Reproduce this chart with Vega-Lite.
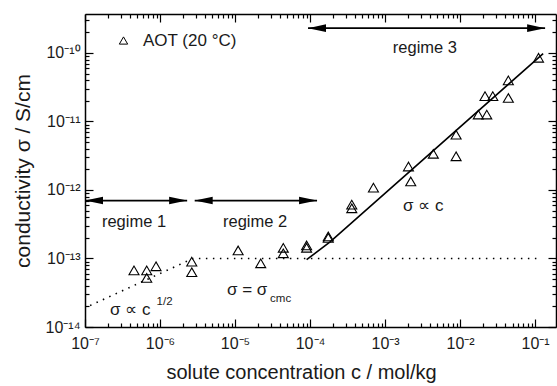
{
  "$schema": "https://vega.github.io/schema/vega-lite/v6.json",
  "width": 471,
  "height": 313,
  "autosize": {"type": "none"},
  "padding": {"left": 85, "top": 14, "right": 1, "bottom": 59},
  "background": "white",
  "config": {
    "font": "Liberation Sans",
    "view": {"stroke": null},
    "axis": {
      "domainColor": "#000",
      "domainWidth": 1.5,
      "tickColor": "#000",
      "tickWidth": 1.2,
      "grid": false,
      "labelFont": "Liberation Sans",
      "titleFont": "Liberation Sans",
      "labelColor": "#1a1a1a",
      "titleColor": "#1a1a1a",
      "titleFontWeight": "normal",
      "labelFlush": false,
      "labelOverlap": false,
      "labelFontSize": 16,
      "titleFontSize": 20
    },
    "text": {"font": "Liberation Sans", "color": "#1a1a1a"}
  },
  "datasets": {
    "aot": [
      {"c": 4.5e-7, "sigma": 6.7e-14},
      {"c": 6.65e-7, "sigma": 6.7e-14},
      {"c": 6.65e-7, "sigma": 5.2e-14},
      {"c": 8.85e-7, "sigma": 7.7e-14},
      {"c": 2.65e-6, "sigma": 9.0e-14},
      {"c": 2.65e-6, "sigma": 6.3e-14},
      {"c": 1.1e-5, "sigma": 1.31e-13},
      {"c": 2.2e-5, "sigma": 8.5e-14},
      {"c": 4.4e-5, "sigma": 1.43e-13},
      {"c": 4.4e-5, "sigma": 1.19e-13},
      {"c": 9.0e-5, "sigma": 1.55e-13},
      {"c": 9.0e-5, "sigma": 1.43e-13},
      {"c": 1.75e-4, "sigma": 2.1e-13},
      {"c": 1.75e-4, "sigma": 2.0e-13},
      {"c": 3.6e-4, "sigma": 6.1e-13},
      {"c": 3.6e-4, "sigma": 5.4e-13},
      {"c": 7.0e-4, "sigma": 1.08e-12},
      {"c": 2.05e-3, "sigma": 2.2e-12},
      {"c": 2.2e-3, "sigma": 1.33e-12},
      {"c": 4.4e-3, "sigma": 3.37e-12},
      {"c": 8.85e-3, "sigma": 6.4e-12},
      {"c": 8.85e-3, "sigma": 3.1e-12},
      {"c": 1.75e-2, "sigma": 1.26e-11},
      {"c": 2.27e-2, "sigma": 1.26e-11},
      {"c": 2.15e-2, "sigma": 2.34e-11},
      {"c": 2.73e-2, "sigma": 2.34e-11},
      {"c": 4.4e-2, "sigma": 2.2e-11},
      {"c": 4.4e-2, "sigma": 3.97e-11},
      {"c": 0.111, "sigma": 8.5e-11}
    ],
    "fitDotted": [
      {"c": 1.17e-7, "sigma": 2.06e-14},
      {"c": 2.75e-6, "sigma": 1e-13},
      {"c": 0.114, "sigma": 1e-13}
    ],
    "fitSolid": [
      {"c": 9e-5, "sigma": 9.6e-14},
      {"c": 1.85e-4, "sigma": 1.75e-13},
      {"c": 0.128, "sigma": 9.8e-11}
    ],
    "arrows": [
      {"c1": 1e-7, "c2": 2.3e-6, "sigma": 7.0e-13},
      {"c1": 2.9e-6, "c2": 1.24e-4, "sigma": 7.0e-13},
      {"c1": 9.4e-5, "c2": 0.136, "sigma": 2.3e-10}
    ],
    "regimes": [
      {"c": 4.5e-7, "sigma": 3.36e-13, "label": "regime 1"},
      {"c": 1.85e-5, "sigma": 3.36e-13, "label": "regime 2"},
      {"c": 3.4e-3, "sigma": 1.18e-10, "label": "regime 3"}
    ],
    "formulas": [
      {"c": 2.15e-7, "sigma": 1.8e-14, "label": "σ ∝ c"},
      {"c": 7.8e-6, "sigma": 3.5e-14, "label": "σ = σ"},
      {"c": 1.74e-3, "sigma": 5.9e-13, "label": "σ ∝ c"}
    ],
    "scripts": [
      {"c": 9.0e-7, "sigma": 2.3e-14, "label": "1/2"},
      {"c": 2.93e-5, "sigma": 2.6e-14, "label": "cmc"}
    ]
  },
  "layer": [
    {
      "data": {"name": "aot"},
      "mark": {"type": "point", "filled": false, "color": "#000", "size": 100, "strokeWidth": 1.1, "opacity": 1},
      "encoding": {
        "x": {
          "field": "c", "type": "quantitative",
          "scale": {"type": "log", "domain": [1e-7, 0.19], "nice": false},
          "axis": {
            "orient": "bottom",
            "title": "solute concentration c / mol/kg",
            "values": [1e-7,2e-7,3e-7,4e-7,5e-7,6e-7,7e-7,8e-7,9e-7,1e-6,2e-6,3e-6,4e-6,5e-6,6e-6,7e-6,8e-6,9e-6,1e-5,2e-5,3e-5,4e-5,5e-5,6e-5,7e-5,8e-5,9e-5,1e-4,2e-4,3e-4,4e-4,5e-4,6e-4,7e-4,8e-4,9e-4,1e-3,2e-3,3e-3,4e-3,5e-3,6e-3,7e-3,8e-3,9e-3,1e-2,2e-2,3e-2,4e-2,5e-2,6e-2,7e-2,8e-2,9e-2,1e-1],
            "labelExpr": "abs(log(datum.value)/LN10 - round(log(datum.value)/LN10)) < 0.001 ? '10⁻' + ['⁰','¹','²','³','⁴','⁵','⁶','⁷','⁸','⁹'][abs(round(log(datum.value)/LN10))] : ''",
            "tickSize": {"condition": {"test": "abs(log(datum.value)/LN10 - round(log(datum.value)/LN10)) < 0.001", "value": -8}, "value": -4},
            "labelPadding": 16,
            "titlePadding": 7,
            "titleX": 216
          }
        },
        "y": {
          "field": "sigma", "type": "quantitative",
          "scale": {"type": "log", "domain": [1e-14, 3.7e-10], "nice": false},
          "axis": {
            "orient": "left",
            "title": "conductivity σ / S/cm",
            "titleFontSize": 21,
            "values": [1e-14,2e-14,3e-14,4e-14,5e-14,6e-14,7e-14,8e-14,9e-14,1e-13,2e-13,3e-13,4e-13,5e-13,6e-13,7e-13,8e-13,9e-13,1e-12,2e-12,3e-12,4e-12,5e-12,6e-12,7e-12,8e-12,9e-12,1e-11,2e-11,3e-11,4e-11,5e-11,6e-11,7e-11,8e-11,9e-11,1e-10,2e-10,3e-10],
            "labelExpr": "abs(log(datum.value)/LN10 - round(log(datum.value)/LN10)) < 0.001 ? '10⁻¹' + ['⁰','¹','²','³','⁴','⁵','⁶','⁷','⁸','⁹'][abs(round(log(datum.value)/LN10)) - 10] : ''",
            "tickSize": {"condition": {"test": "abs(log(datum.value)/LN10 - round(log(datum.value)/LN10)) < 0.001", "value": -8}, "value": -4},
            "labelPadding": 13,
            "titlePadding": 12
          }
        },
        "shape": {
          "datum": "AOT (20 °C)",
          "type": "nominal",
          "scale": {"range": ["triangle-up"]},
          "legend": {
            "orient": "none", "legendX": 30, "legendY": 18, "title": null,
            "labelFontSize": 17, "labelFont": "Liberation Sans", "labelColor": "#1a1a1a",
            "symbolSize": 70, "symbolStrokeColor": "#000", "symbolStrokeWidth": 1, "labelOffset": 11
          }
        }
      }
    },
    {
      "data": {"name": "fitDotted"},
      "mark": {"type": "line", "color": "#000", "strokeWidth": 1.6, "strokeDash": [1.5, 5.5]},
      "encoding": {
        "x": {
          "field": "c", "type": "quantitative",
          "scale": {"type": "log", "domain": [1e-7, 0.19], "nice": false},
          "axis": {
            "orient": "top", "title": null, "labels": false,
            "values": [1e-7,2e-7,3e-7,4e-7,5e-7,6e-7,7e-7,8e-7,9e-7,1e-6,2e-6,3e-6,4e-6,5e-6,6e-6,7e-6,8e-6,9e-6,1e-5,2e-5,3e-5,4e-5,5e-5,6e-5,7e-5,8e-5,9e-5,1e-4,2e-4,3e-4,4e-4,5e-4,6e-4,7e-4,8e-4,9e-4,1e-3,2e-3,3e-3,4e-3,5e-3,6e-3,7e-3,8e-3,9e-3,1e-2,2e-2,3e-2,4e-2,5e-2,6e-2,7e-2,8e-2,9e-2,1e-1],
            "tickSize": {"condition": {"test": "abs(log(datum.value)/LN10 - round(log(datum.value)/LN10)) < 0.001", "value": -8}, "value": -4}
          }
        },
        "y": {
          "field": "sigma", "type": "quantitative",
          "scale": {"type": "log", "domain": [1e-14, 3.7e-10], "nice": false},
          "axis": {
            "orient": "right", "title": null, "labels": false,
            "values": [1e-14,2e-14,3e-14,4e-14,5e-14,6e-14,7e-14,8e-14,9e-14,1e-13,2e-13,3e-13,4e-13,5e-13,6e-13,7e-13,8e-13,9e-13,1e-12,2e-12,3e-12,4e-12,5e-12,6e-12,7e-12,8e-12,9e-12,1e-11,2e-11,3e-11,4e-11,5e-11,6e-11,7e-11,8e-11,9e-11,1e-10,2e-10,3e-10],
            "tickSize": {"condition": {"test": "abs(log(datum.value)/LN10 - round(log(datum.value)/LN10)) < 0.001", "value": -8}, "value": -4}
          }
        }
      }
    },
    {
      "data": {"name": "fitSolid"},
      "mark": {"type": "line", "color": "#000", "strokeWidth": 1.6},
      "encoding": {
        "x": {"field": "c", "type": "quantitative", "scale": {"type": "log", "domain": [1e-7, 0.19], "nice": false}, "axis": null},
        "y": {"field": "sigma", "type": "quantitative", "scale": {"type": "log", "domain": [1e-14, 3.7e-10], "nice": false}, "axis": null}
      }
    },
    {
      "data": {"name": "arrows"},
      "mark": {"type": "rule", "color": "#000", "strokeWidth": 1.6},
      "encoding": {
        "x": {"field": "c1", "type": "quantitative", "scale": {"type": "log", "domain": [1e-7, 0.19], "nice": false}, "axis": null},
        "x2": {"field": "c2"},
        "y": {"field": "sigma", "type": "quantitative", "scale": {"type": "log", "domain": [1e-14, 3.7e-10], "nice": false}, "axis": null}
      }
    },
    {
      "data": {"name": "arrows"},
      "mark": {"type": "point", "shape": "M 0 0 L 2 -0.42 L 2 0.42 Z", "size": 324, "filled": true, "color": "#000", "opacity": 1, "strokeWidth": 0},
      "encoding": {
        "x": {"field": "c1", "type": "quantitative", "scale": {"type": "log", "domain": [1e-7, 0.19], "nice": false}, "axis": null},
        "y": {"field": "sigma", "type": "quantitative", "scale": {"type": "log", "domain": [1e-14, 3.7e-10], "nice": false}, "axis": null}
      }
    },
    {
      "data": {"name": "arrows"},
      "mark": {"type": "point", "shape": "M 0 0 L -2 -0.42 L -2 0.42 Z", "size": 324, "filled": true, "color": "#000", "opacity": 1, "strokeWidth": 0},
      "encoding": {
        "x": {"field": "c2", "type": "quantitative", "scale": {"type": "log", "domain": [1e-7, 0.19], "nice": false}, "axis": null},
        "y": {"field": "sigma", "type": "quantitative", "scale": {"type": "log", "domain": [1e-14, 3.7e-10], "nice": false}, "axis": null}
      }
    },
    {
      "data": {"name": "regimes"},
      "mark": {"type": "text", "fontSize": 16.5, "align": "center", "baseline": "middle"},
      "encoding": {
        "x": {"field": "c", "type": "quantitative", "scale": {"type": "log", "domain": [1e-7, 0.19], "nice": false}, "axis": null},
        "y": {"field": "sigma", "type": "quantitative", "scale": {"type": "log", "domain": [1e-14, 3.7e-10], "nice": false}, "axis": null},
        "text": {"field": "label"}
      }
    },
    {
      "data": {"name": "formulas"},
      "mark": {"type": "text", "fontSize": 17, "align": "left", "baseline": "middle"},
      "encoding": {
        "x": {"field": "c", "type": "quantitative", "scale": {"type": "log", "domain": [1e-7, 0.19], "nice": false}, "axis": null},
        "y": {"field": "sigma", "type": "quantitative", "scale": {"type": "log", "domain": [1e-14, 3.7e-10], "nice": false}, "axis": null},
        "text": {"field": "label"}
      }
    },
    {
      "data": {"name": "scripts"},
      "mark": {"type": "text", "fontSize": 11.5, "align": "left", "baseline": "middle"},
      "encoding": {
        "x": {"field": "c", "type": "quantitative", "scale": {"type": "log", "domain": [1e-7, 0.19], "nice": false}, "axis": null},
        "y": {"field": "sigma", "type": "quantitative", "scale": {"type": "log", "domain": [1e-14, 3.7e-10], "nice": false}, "axis": null},
        "text": {"field": "label"}
      }
    }
  ],
  "resolve": {"axis": {"x": "independent", "y": "independent"}}
}
